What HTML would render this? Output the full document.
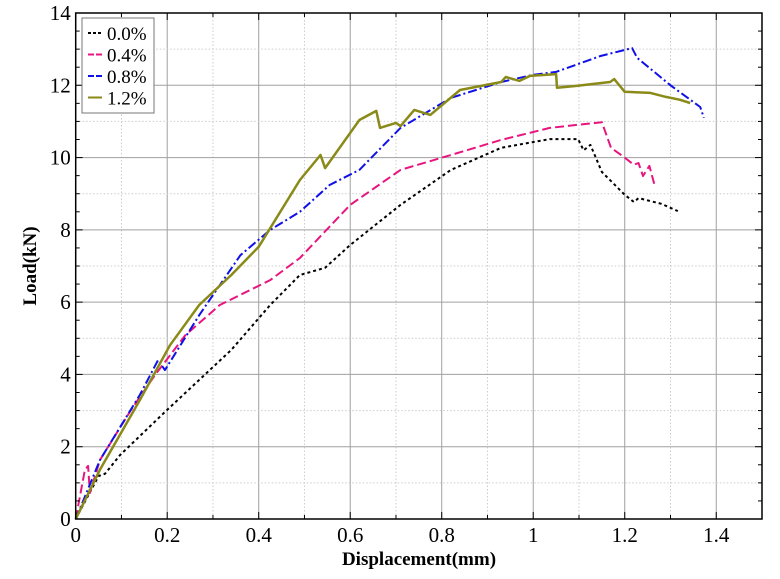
<!DOCTYPE html>
<html><head><meta charset="utf-8"><style>
body{margin:0;background:#fff}
svg text{font-family:"Liberation Serif",serif}
</style></head><body>
<svg id="chart" width="780" height="574" xmlns="http://www.w3.org/2000/svg">
<g id="grid"></g>
<g id="series"></g>
<g id="axes"></g>
<text x="419" y="565" text-anchor="middle" font-size="19" font-weight="bold">Displacement(mm)</text>
<text transform="translate(36,266) rotate(-90)" text-anchor="middle" font-size="19" font-weight="bold">Load(kN)</text>
<g id="legend"></g>
</svg>
<script>
const xTicks=[0,0.2,0.4,0.6,0.8,1,1.2,1.4];
const xTickLabels=["0","0.2","0.4","0.6","0.8","1","1.2","1.4"];
const yTicks=[0,2,4,6,8,10,12,14];
const yTickLabels=["0","2","4","6","8","10","12","14"];
const names=["0.0%","0.4%","0.8%","1.2%"];
const s0x=[0,0.05,0.064,0.097,0.195,0.34,0.425,0.49,0.545,0.6,0.71,0.82,0.93,1.036,1.098,1.11,1.125,1.15,1.2,1.22,1.23,1.28,1.316];
const s0y=[0,1.19,1.25,1.77,2.96,4.68,5.92,6.75,6.95,7.58,8.69,9.66,10.27,10.51,10.51,10.2,10.35,9.6,8.97,8.77,8.88,8.72,8.52];
const s1x=[0,0.02,0.027,0.031,0.053,0.12,0.173,0.24,0.315,0.425,0.49,0.6,0.71,0.82,0.93,1.036,1.15,1.17,1.2,1.22,1.23,1.24,1.254,1.265];
const s1y=[0,1.36,1.47,0.72,1.63,3.0,3.98,5.09,5.92,6.61,7.22,8.69,9.66,10.07,10.49,10.82,10.98,10.27,10.0,9.8,9.85,9.49,9.77,9.24];
const s2x=[0,0.053,0.14,0.18,0.195,0.27,0.36,0.425,0.49,0.555,0.62,0.71,0.82,0.93,1.0,1.05,1.147,1.216,1.227,1.3,1.365,1.373];
const s2y=[0,1.63,3.43,4.4,4.12,5.64,7.3,8.0,8.5,9.24,9.66,10.82,11.65,12.09,12.29,12.37,12.81,13.03,12.76,12.0,11.4,11.1];
const s3x=[0,0.053,0.14,0.206,0.27,0.34,0.4,0.49,0.535,0.545,0.62,0.657,0.665,0.7,0.71,0.74,0.775,0.84,0.93,0.94,0.97,0.993,1.05,1.052,1.092,1.168,1.177,1.2,1.256,1.29,1.32,1.343];
const s3y=[0,1.36,3.29,4.81,5.92,6.75,7.53,9.38,10.07,9.71,11.04,11.29,10.82,10.96,10.87,11.32,11.18,11.87,12.09,12.23,12.12,12.26,12.31,11.93,11.98,12.09,12.17,11.82,11.79,11.68,11.6,11.51];
const X0=75.7,X1=762,Y0=519,Y1=13,XMAX=1.5,YMAX=14;
const sx=v=>X0+v/XMAX*(X1-X0), sy=v=>Y0-v/YMAX*(Y0-Y1);
const NS="http://www.w3.org/2000/svg";
function mk(t,a,p){const e=document.createElementNS(NS,t);for(const k in a)e.setAttribute(k,a[k]);p.appendChild(e);return e;}
const grid=document.getElementById('grid'),axes=document.getElementById('axes'),ser=document.getElementById('series'),leg=document.getElementById('legend');
for(let i=1;i<15;i++){const v=i*0.1;const l=mk('line',{x1:sx(v),x2:sx(v),y1:Y1,y2:Y0,stroke:i%2?'#ccc':'#a0a0a0','stroke-dasharray':i%2?'1.5,2':'none','stroke-width':1},grid);}
for(let i=1;i<14;i++){const l=mk('line',{x1:X0,x2:X1,y1:sy(i),y2:sy(i),stroke:i%2?'#ccc':'#a0a0a0','stroke-dasharray':i%2?'1.5,2':'none','stroke-width':1},grid);}
const fr=mk('rect',{x:X0,y:Y1,width:X1-X0,height:Y0-Y1,fill:'none',stroke:'#000','stroke-width':1.5},axes);

for(let i=0;i<=15;i++){const v=i*0.1,len=i%2?4:7;mk('line',{x1:sx(v),x2:sx(v),y1:Y0,y2:Y0-len,stroke:'#000'},axes);mk('line',{x1:sx(v),x2:sx(v),y1:Y1,y2:Y1+len,stroke:'#000'},axes);}
for(let i=0;i<=28;i++){const v=i*0.5,len=i%4==0?7:4;mk('line',{x1:X0,x2:X0+len,y1:sy(v),y2:sy(v),stroke:'#000'},axes);mk('line',{x1:X1,x2:X1-len,y1:sy(v),y2:sy(v),stroke:'#000'},axes);}
xTicks.forEach((v,i)=>{const t=mk('text',{x:sx(v),y:Y0+23,'text-anchor':'middle','font-size':21},axes);t.textContent=xTickLabels[i];});
yTicks.forEach((v,i)=>{const t=mk('text',{x:X0-5,y:sy(v)+7,'text-anchor':'end','font-size':21},axes);t.textContent=yTickLabels[i];});
const styles=[{c:'#000',d:'3,3',w:2},{c:'#e8157f',d:'9,4',w:2},{c:'#1010e8',d:'9,3,2,3',w:2},{c:'#8a8a18',d:'none',w:2.5}];
const data=[[s0x,s0y],[s1x,s1y],[s2x,s2y],[s3x,s3y]];
data.forEach((d,k)=>{const pts=d[0].map((x,i)=>sx(x).toFixed(1)+','+sy(d[1][i]).toFixed(1)).join(' ');
const p=mk('polyline',{points:pts,fill:'none',stroke:styles[k].c,'stroke-width':styles[k].w,'stroke-dasharray':styles[k].d,'stroke-linejoin':'round'},ser);
});
const lb=mk('rect',{x:82,y:18,width:72,height:95,fill:'#fff',stroke:'#777','stroke-width':1},leg);

names.forEach((n,k)=>{const y=33+k*21.5;const g=mk('g',{},leg);
mk('line',{x1:88,x2:102,y1:y,y2:y,stroke:styles[k].c,'stroke-width':2,'stroke-dasharray':k==0?'3,2':(k==3?'none':'6,2')},g);
const t=mk('text',{x:107,y:y+7,'font-size':19},g);t.textContent=n;});
</script>
</body></html>
